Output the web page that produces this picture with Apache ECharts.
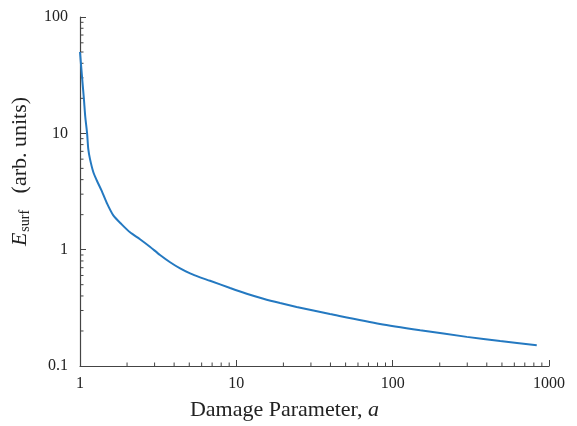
<!DOCTYPE html>
<html>
<head>
<meta charset="utf-8">
<script src="https://cdn.jsdelivr.net/npm/echarts@6/dist/echarts.min.js"></script>
<style>html,body{margin:0;padding:0;background:#fff;}#c{width:577px;height:426px;}</style>
</head>
<body>
<div id="c"></div>
<script>
// Damage parameter a (x) and surface energy E_surf (y)
const damageA = [1, 1.03, 1.06, 1.08, 1.11, 1.13, 1.159, 1.216, 1.279, 1.377, 1.482, 1.633, 1.848, 2.09, 2.42, 2.80, 3.25, 3.77, 4.37, 5.06, 5.86, 6.79, 9.12, 11.65, 14.9, 19.05, 24.3, 31.1, 39.7, 83, 150, 298, 487, 835];
const eSurf   = [50, 30.7, 19.5, 14, 10, 7.3, 6.0, 4.65, 3.95, 3.2, 2.53, 1.97, 1.65, 1.41, 1.23, 1.06, 0.90, 0.78, 0.69, 0.625, 0.578, 0.54, 0.468, 0.418, 0.379, 0.348, 0.322, 0.300, 0.280, 0.230, 0.203, 0.178, 0.164, 0.151];
const xMinorTicks = [2,3,4,5,6,7,8,9,20,30,40,50,60,70,80,90,200,300,400,500,600,700,800,900];
const yMinorTicks = [0.2,0.3,0.4,0.5,0.6,0.7,0.8,0.9,2,3,4,5,6,7,8,9,20,30,40,50,60,70,80,90];
const xMin = 1, xMax = 1000, yMin = 0.1, yMax = 100;

const font = 'Liberation Serif';
const axisColor = '#444';
const textColor = '#222';
const chart = echarts.init(document.getElementById('c'));

function minorTick(dir) {
  return function (params, api) {
    const p = api.coord([api.value(0), api.value(1)]);
    const len = 3.5;
    const shape = dir === 'x'
      ? { x1: p[0], y1: p[1], x2: p[0], y2: p[1] - len }
      : { x1: p[0], y1: p[1], x2: p[0] + len, y2: p[1] };
    return { type: 'line', shape: shape, style: { stroke: axisColor, lineWidth: 1 } };
  };
}

function plainNumber(v) { return String(+v.toPrecision(6)); }

chart.setOption({
  animation: false,
  backgroundColor: '#fff',
  grid: { left: 80, right: 28, top: 17, bottom: 58, containLabel: false },
  xAxis: {
    type: 'log', logBase: 10, min: xMin, max: xMax,
    name: '{t|Damage Parameter, }{i|a}',
    nameLocation: 'middle', nameGap: 33,
    nameTextStyle: { padding: [0, 60, 0, 0], rich: {
      t: { fontFamily: font, fontSize: 22, color: textColor },
      i: { fontFamily: font, fontSize: 22, color: textColor, fontStyle: 'italic' }
    } },
    axisLine: { show: true, lineStyle: { color: axisColor, width: 1.2 } },
    axisTick: { show: true, inside: true, length: 6, lineStyle: { color: axisColor } },
    axisLabel: { fontFamily: font, fontSize: 16, color: textColor, margin: 10, formatter: plainNumber },
    splitLine: { show: false },
    minorTick: { show: false }
  },
  yAxis: {
    type: 'log', logBase: 10, min: yMin, max: yMax,
    name: '{e|E}{s|surf}{t|   (arb. units)}',
    nameLocation: 'middle', nameGap: 48, nameRotate: 90,
    nameTextStyle: { padding: [0, 0, 0, 40], rich: {
      e: { fontFamily: font, fontSize: 22, color: textColor, fontStyle: 'italic' },
      s: { fontFamily: font, fontSize: 14, color: textColor, verticalAlign: 'bottom', padding: [9, 0, 0, 1] },
      t: { fontFamily: font, fontSize: 22, color: textColor }
    } },
    axisLine: { show: true, lineStyle: { color: axisColor, width: 1.2 } },
    axisTick: { show: true, inside: true, length: 6, lineStyle: { color: axisColor } },
    axisLabel: { fontFamily: font, fontSize: 16, color: textColor, margin: 12, formatter: plainNumber },
    splitLine: { show: false },
    minorTick: { show: false }
  },
  series: [
    {
      type: 'line',
      data: damageA.map((a, i) => [a, eSurf[i]]),
      smooth: 0.25,
      showSymbol: false,
      lineStyle: { color: '#2479c1', width: 2 },
      z: 3
    },
    {
      type: 'custom', silent: true, clip: false,
      data: xMinorTicks.map(v => [v, yMin]),
      renderItem: minorTick('x'), z: 2
    },
    {
      type: 'custom', silent: true, clip: false,
      data: yMinorTicks.map(v => [xMin, v]),
      renderItem: minorTick('y'), z: 2
    }
  ]
});
</script>
</body>
</html>
